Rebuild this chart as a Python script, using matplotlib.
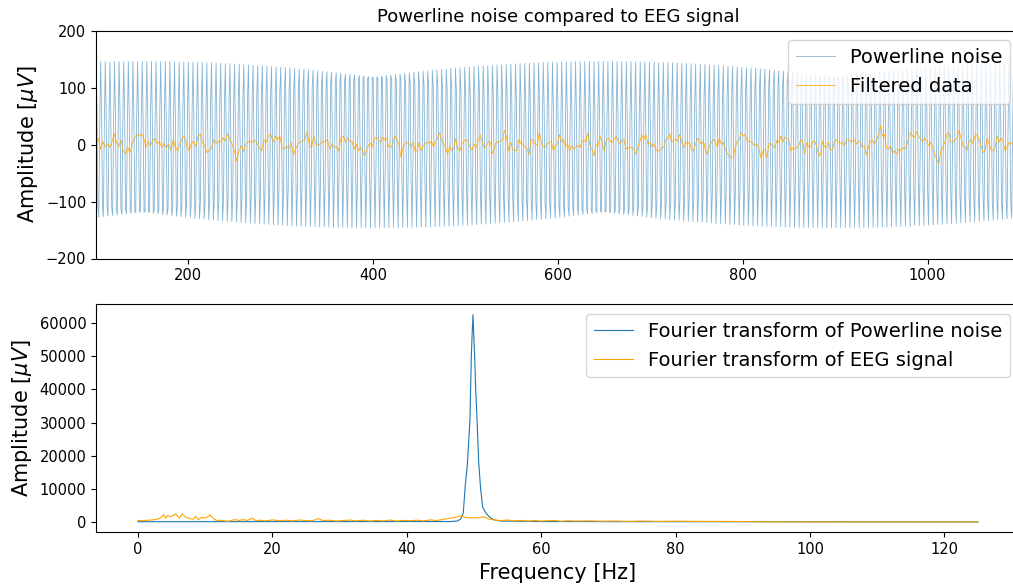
import numpy as np
import matplotlib
matplotlib.use("Agg")
import matplotlib.pyplot as plt

# ---------------- time domain ----------------
fs = 250.0                      # sampling rate [Hz]
sample_start, sample_end = 100, 1100

# mains interference component (amplitude [uV], frequency [Hz], phase [cycles])
mains_amp = 146.0
mains_freq = 50.1
mains_phase = -0.06

# filtered EEG, read in four consecutive stretches of samples
eeg_seg_bounds = [(100, 375), (375, 650), (650, 925), (925, 1097)]
eeg_seg1 = [9, 11, -8, 5, -4, 1, -5, 4, 19, 4, -4, 8, -11, -16, -5, -14, 1, 12, 18, 15,
            19, 12, -5, 6, -2, 8, 11, 1, 5, -5, 2, -6, 1, -10, 9, -5, -11, 2, 11, 15,
            -2, -11, 1, 6, -4, 15, 18, 4, -4, -14, -10, -5, 9, 2, 6, 4, 12, 6, 19, 9,
            1, -11, -29, -11, -2, -12, 1, 5, 6, 4, 8, 2, -5, -11, 8, 4, 15, 19, 4, 15,
            9, 15, -5, -8, -2, -8, 4, -18, -8, 1, 5, 6, 8, 23, 1, -5, 15, 1, -2, 2,
            6, 5, 9, -8, 1, -5, -4, -11, 12, 15, 4, 12]
eeg_seg2 = [6, 5, -8, 1, -11, -4, -10, -20, -11, -1, 2, -4, 11, 13, 9, 4, 13, 8, 11, -4,
            -5, 1, 15, 9, 1, -22, -5, 2, 4, 2, -4, 4, -12, -10, 4, -11, -2, 1, 5, 2,
            6, -4, 6, 11, 21, 8, 1, -5, -17, -2, -11, -6, 11, -8, -11, 1, 6, 9, 5, -4,
            -10, 1, -5, 6, 17, 5, -6, -2, 5, 4, -16, -5, 5, 4, 6, 9, 25, 12, -11, 4,
            -8, -11, -10, 9, 2, 1, -4, -8, -18, 8, 9, 1, -2, 21, 6, -4, -4, 1, 4, 6,
            -11, -1, 1, 18, 5, 9, -4, 1, -11, -2, -8, -5, -1, -5, 4, 8, 5, 21, -2, -8,
            -20, -1, -2, 15, 4]
eeg_seg3 = [-11, 8, 11, 6, 4, 9, 15, 6, 1, 8, 9, -8, -5, -5, -6, -8, -17, -5, 6, 17,
            9, 18, 1, 5, -4, 1, -8, -12, -10, -6, -5, 9, 11, 19, 4, 8, 9, 6, 18, 6,
            -5, 5, 2, 4, -8, -11, 1, 11, 5, 1, 6, -11, -17, -2, 4, 9, 5, -4, 11, 1,
            4, -8, -16, -20, -22, -23, -5, 5, 9, 21, 15, 18, 6, 5, 5, 1, -2, 1, -8, -24,
            -11, -8, -23, 2, 1, -2, -6, 8, 4, 15, 5, 13, 11, 8, -11, -6, -8, -5, -2, 9,
            5, -16, 4, -4, -5, 5, 6, -2, -20, -17, 6, -4, -5, 4, -10, -8, 5, 9, 4, 2,
            5, -2, 8, 9, 5, 6, 9, 1]
eeg_seg4 = [5, 4, -5, -2, -18, -5, 5, 8, 1, 8, 15, 33, 15, 18, -5, -8, -2, -16, -10, -17,
            -8, -11, -6, -8, -2, 12, 21, 15, 13, 23, 15, 9, 5, 12, 6, -2, 4, -5, -18, -26,
            -35, -11, -5, 4, 18, 21, 5, 4, 8, 11, 25, 12, -2, -5, -11, 5, 9, 2, 15, 18,
            9, -2, -14, -11, 11, 1, -8, -11, -5, 15, 5, 12, 4, -11, -4, 4, 1, 4, -2, 2]
eeg_segments = [eeg_seg1, eeg_seg2, eeg_seg3, eeg_seg4]

# ---------------- frequency domain ----------------
noise_fft_freq = [0, 46.5, 47.5, 48.0, 48.4, 48.7, 49.0, 49.2, 49.4, 49.6, 49.75, 49.85,
                  49.95, 50.1, 50.25, 50.45, 50.7, 51.0, 51.3, 51.7, 52.1, 52.6, 53.2,
                  54, 60, 80, 125]
noise_fft_amp = [150, 200, 350, 900, 2700, 11000, 17000, 24000, 31000, 49900, 58000, 62500,
                 57000, 49900, 40000, 31000, 18000, 9700, 4500, 3000, 2000, 1100, 600,
                 350, 200, 150, 80]

eeg_fft_freq = [0, 0.5, 1, 1.5, 2, 2.5, 3, 3.5, 3.8, 4.1, 4.4, 4.8, 5.2, 5.6, 5.9, 6.2,
                6.6, 6.95, 7.3, 7.7, 8.2, 8.6, 9.0, 9.5, 9.8, 10.2, 10.7, 11.0, 11.3,
                11.7, 12.2, 12.7, 13.5, 14, 14.5, 15, 15.7, 16.2, 17, 17.5, 18.2, 19,
                20, 21, 22, 23, 24, 25, 26, 26.8, 27.5, 28.5, 29.5, 30.5, 31.5, 32.5,
                33.5, 34.5, 35.5, 36.5, 37.5, 38.5, 39.5, 40.5, 41.5, 42.5, 43.5, 44.5,
                45.5, 46.5, 47.5, 48.1, 48.6, 49.5, 50.5, 51.5, 52.3, 53.3, 54, 55, 56,
                57, 58, 59, 60, 61, 62, 63, 64, 65, 67, 69, 71, 73, 75, 77, 80, 83, 86,
                90, 93, 100, 110, 125]
eeg_fft_amp = [500, 500, 550, 600, 650, 800, 1000, 1500, 2300, 1200, 2000, 1700, 1900,
               2500, 1700, 1300, 2500, 1700, 1300, 1100, 900, 1700, 800, 1500, 1200, 1400,
               2200, 1600, 1000, 500, 600, 450, 300, 600, 800, 500, 800, 500, 1200, 500,
               600, 400, 700, 450, 600, 400, 650, 500, 450, 1100, 500, 600, 350, 500,
               650, 400, 600, 350, 550, 400, 650, 350, 550, 450, 600, 400, 700, 500,
               900, 1200, 1600, 2000, 1500, 1300, 1300, 1600, 900, 600, 500, 650, 400,
               550, 350, 500, 350, 450, 500, 300, 450, 350, 400, 300, 350, 250, 350,
               250, 300, 250, 250, 200, 120, 100, 100, 100]

# ---------------- figure ----------------
W, H = 1013, 587
fig = plt.figure(figsize=(W / 100, H / 100), dpi=100)


def px_box(left, top, right, bottom):
    return [left / W, 1 - bottom / H, (right - left) / W, (bottom - top) / H]


ax1 = fig.add_axes(px_box(96, 30.7, 1020, 258.5))
ax2 = fig.add_axes(px_box(96, 304.3, 1020, 532.3))

n = np.arange(sample_start, sample_end + 1)
mains = mains_amp * np.cos(2 * np.pi * (mains_freq / fs * n + mains_phase))

eeg_t, eeg_v = [], []
for (a, b), seg in zip(eeg_seg_bounds, eeg_segments):
    last = (a, b) == eeg_seg_bounds[-1]
    eeg_t.append(np.linspace(a, b, len(seg), endpoint=last))
    eeg_v.append(np.asarray(seg, dtype=float))
eeg_t = np.concatenate(eeg_t)
eeg_v = np.concatenate(eeg_v)

ax1.plot(n, mains, color="C0", lw=0.6, alpha=0.55, label="Powerline noise")
ax1.plot(eeg_t, eeg_v, color="orange", lw=0.6, alpha=0.9, label="Filtered data")
ax1.set_xlim(sample_start, sample_end)
ax1.set_ylim(-200, 200)
ax1.set_title("Powerline noise compared to EEG signal", fontsize=13)
ax1.set_ylabel(r"Amplitude [$\mu V$]", fontsize=15)
ax1.tick_params(labelsize=10.5)
ax1.legend(loc="upper right", fontsize=14)

ax2.plot(noise_fft_freq, noise_fft_amp, color="C0", lw=0.8,
         label="Fourier transform of Powerline noise")
ax2.plot(eeg_fft_freq, eeg_fft_amp, color="orange", lw=0.8,
         label="Fourier transform of EEG signal")
ax2.set_xlabel("Frequency [Hz]", fontsize=15)
ax2.set_ylabel(r"Amplitude [$\mu V$]", fontsize=15)
ax2.tick_params(labelsize=10.5)
ax2.legend(loc="upper right", fontsize=14)

fig.savefig("out.png", dpi=100)
